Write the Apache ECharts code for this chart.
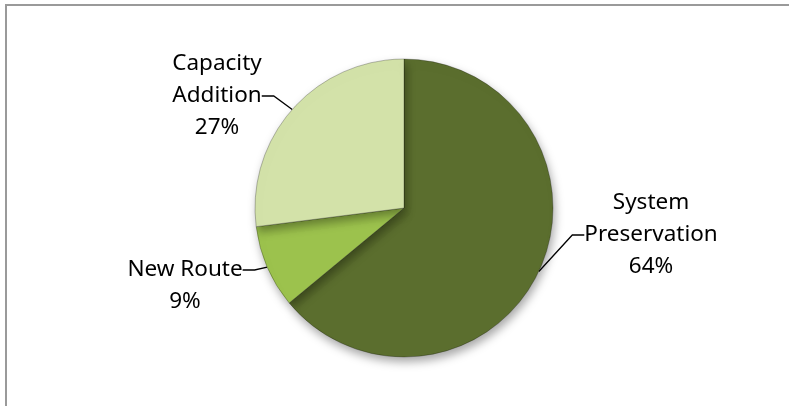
<!DOCTYPE html>
<html>
<head>
<meta charset="utf-8">
<script src="https://cdn.jsdelivr.net/npm/echarts@6/dist/echarts.min.js"></script>
<style>
html,body{margin:0;padding:0;background:#fff;}
#chart{width:789px;height:406px;}
</style>
</head>
<body>
<div id="chart"></div>
<script>
const categories = ['System\nPreservation', 'New Route', 'Capacity\nAddition'];
const values = [64, 9, 27];
const percentLabels = ['64%', '9%', '27%'];
const colors = ['#5b6e2e', '#9cc24d', '#d3e2a9'];

// label text-block centres (style/layout, not data)
const labelPos = [
  {x: 651, y: 235},
  {x: 185, y: 270},
  {x: 217, y: 96}
];

const chart = echarts.init(document.getElementById('chart'), null, {renderer: 'canvas'});

const data = categories.map((name, i) => ({
  name: name,
  value: values[i],
  itemStyle: {color: colors[i]}
}));

chart.setOption({
  animation: false,
  graphic: [{
    type: 'rect',
    shape: {x: 6, y: 5, width: 800, height: 420},
    style: {fill: 'none', stroke: '#9a9a9a', lineWidth: 2},
    silent: true
  }],
  series: [{
    type: 'pie',
    center: [404, 208],
    radius: [0, 149],
    startAngle: 90,
    clockwise: true,
    data: data,
    itemStyle: {
      borderColor: 'rgba(0,0,0,0.25)',
      borderWidth: 1,
      shadowBlur: 10,
      shadowOffsetX: 2,
      shadowOffsetY: 5,
      shadowColor: 'rgba(0,0,0,0.35)'
    },
    label: {
      show: true,
      formatter: function (p) {
        const txt = p.name + '\n' + percentLabels[p.dataIndex];
        // New Route: blank first line so the leader line meets the name line
        return p.dataIndex === 1 ? '\u00a0\n' + txt : txt;
      },
      fontFamily: 'Noto Sans',
      fontSize: 22.5,
      lineHeight: 32,
      color: '#000',
      align: 'center'
    },
    labelLine: {
      show: true,
      length: 10,
      length2: 12,
      lineStyle: {color: '#000', width: 1.3}
    },
    labelLayout: function (params) {
      const p = labelPos[params.dataIndex];
      return {x: p.x, y: p.y, align: 'center', verticalAlign: 'middle'};
    }
  }]
});
</script>
</body>
</html>
